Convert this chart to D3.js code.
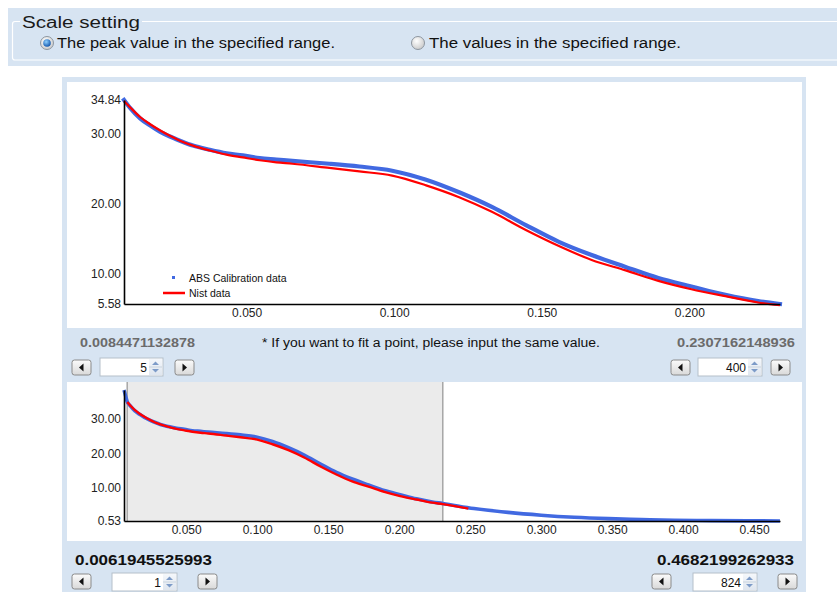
<!DOCTYPE html>
<html>
<head>
<meta charset="utf-8">
<script src="https://cdn.jsdelivr.net/npm/d3@7/dist/d3.min.js"></script>
<style>
  body { margin: 0; background: #ffffff; }
  svg { display: block; }
  text { font-family: "Liberation Sans", Arial, sans-serif; }
</style>
</head>
<body>
<svg id="chart" width="837" height="592"></svg>
<script>
// ---------------- DATA ----------------
const absQ = [0.0062, 0.0073, 0.00845, 0.0105, 0.0139, 0.0172, 0.0206, 0.0240, 0.0274, 0.0318, 0.0375, 0.0432,
              0.0487, 0.0544, 0.0601, 0.0655, 0.0780, 0.0882, 0.0993, 0.1108, 0.1220, 0.1331, 0.1446, 0.1558,
              0.1669, 0.1784, 0.1895, 0.2007, 0.2122, 0.2233, 0.2307, 0.2527, 0.2767, 0.3000, 0.3233, 0.3473,
              0.3706, 0.3939, 0.4200, 0.4450, 0.4682];
const absI = [38.2, 36.5, 34.84, 33.7, 32.2, 31.2, 30.3, 29.6, 29.0, 28.3, 27.7, 27.2,
              26.9, 26.5, 26.3, 26.1, 25.7, 25.3, 24.7, 23.4, 21.6, 19.5, 16.9, 14.5,
              12.6, 10.9, 9.3, 8.1, 6.9, 6.0, 5.58, 4.1, 3.0, 2.2, 1.6, 1.2,
              0.95, 0.75, 0.65, 0.58, 0.53];
const nistQ = [0.00845, 0.0105, 0.0139, 0.0172, 0.0206, 0.0240, 0.0274, 0.0318, 0.0375, 0.0432, 0.0487, 0.0544,
               0.0601, 0.0655, 0.0780, 0.0882, 0.0993, 0.1108, 0.1220, 0.1331, 0.1446, 0.1558, 0.1669, 0.1784,
               0.1895, 0.2007, 0.2122, 0.2233, 0.2307, 0.2487];
const nistI = [34.7, 33.8, 32.4, 31.4, 30.5, 29.7, 29.0, 28.3, 27.6, 27.0, 26.6, 26.2,
               25.9, 25.7, 25.1, 24.6, 24.0, 22.6, 20.9, 18.8, 16.2, 13.9, 11.9, 10.4,
               8.9, 7.7, 6.7, 5.8, 5.4, 4.1];

const topRange = [0.0084471132878, 0.2307162148936];
const topPeak = [5.58, 34.84];
const fullRange = [0.0061945525993, 0.4682199262933];
const fullPeak = [0.53, 38.2];

const topXTicks = [0.05, 0.10, 0.15, 0.20];
const topYTicks = [5.58, 10, 20, 30, 34.84];
const botXTicks = [0.05, 0.10, 0.15, 0.20, 0.25, 0.30, 0.35, 0.40, 0.45];
const botYTicks = [0.53, 10, 20, 30];

const legendLabels = ["ABS Calibration data", "Nist data"];
const radioLabels = ["The peak value in the specified range.", "The values in the specified range."];
const groupTitle = "Scale setting";
const noteText = "* If you want to fit a point, please input the same value.";
const rangeLabels = ["0.0084471132878", "0.2307162148936", "0.0061945525993", "0.4682199262933"];
const indexValues = ["5", "400", "1", "824"];

// ---------------- DRAW ----------------
const svg = d3.select("#chart");
const PANEL = "#d7e4f2";
const BLUE = "#4169e1";
const RED = "#ff0000";

const defs = svg.append("defs");
const g1 = defs.append("radialGradient").attr("id", "radOff").attr("cx", "40%").attr("cy", "35%").attr("r", "70%");
g1.append("stop").attr("offset", "0%").attr("stop-color", "#ffffff");
g1.append("stop").attr("offset", "100%").attr("stop-color", "#c8c8c8");
const g2 = defs.append("radialGradient").attr("id", "radDot").attr("cx", "40%").attr("cy", "35%").attr("r", "70%");
g2.append("stop").attr("offset", "0%").attr("stop-color", "#8fd0ff");
g2.append("stop").attr("offset", "100%").attr("stop-color", "#0a4fa8");
const g3 = defs.append("linearGradient").attr("id", "btn").attr("x1", 0).attr("y1", 0).attr("x2", 0).attr("y2", 1);
g3.append("stop").attr("offset", "0%").attr("stop-color", "#fbfbfb");
g3.append("stop").attr("offset", "100%").attr("stop-color", "#d9d9d9");
const g4 = defs.append("linearGradient").attr("id", "spin").attr("x1", 0).attr("y1", 0).attr("x2", 0).attr("y2", 1);
g4.append("stop").attr("offset", "0%").attr("stop-color", "#f4f7fb");
g4.append("stop").attr("offset", "100%").attr("stop-color", "#dfe6ef");

// Top settings band
svg.append("rect").attr("x", 8).attr("y", 8).attr("width", 829).attr("height", 58).attr("fill", PANEL);
svg.append("path")
  .attr("d", "M20,21.5 H15 Q12.5,21.5 12.5,24 V57.5 Q12.5,60 15,60 H837 M142,21.5 H837")
  .attr("fill", "none").attr("stroke", "#ffffff").attr("stroke-width", 1.2);
svg.append("text").attr("x", 22).attr("y", 28).attr("font-size", 16).attr("fill", "#1a1a1a")
  .attr("textLength", 118).attr("lengthAdjust", "spacingAndGlyphs").text(groupTitle);

// Radio buttons
const radios = [{cx: 47, tx: 57, w: 278, on: true}, {cx: 418, tx: 429, w: 252, on: false}];
radios.forEach((r, i) => {
  svg.append("circle").attr("cx", r.cx).attr("cy", 43).attr("r", 6.5)
    .attr("fill", "url(#radOff)").attr("stroke", "#8d96a0").attr("stroke-width", 1);
  if (r.on) svg.append("circle").attr("cx", r.cx).attr("cy", 43).attr("r", 3.8).attr("fill", "url(#radDot)");
  svg.append("text").attr("x", r.tx).attr("y", 48).attr("font-size", 14).attr("fill", "#111")
    .attr("textLength", r.w).attr("lengthAdjust", "spacingAndGlyphs").text(radioLabels[i]);
});

// Main panel
svg.append("rect").attr("x", 62).attr("y", 77).attr("width", 744).attr("height", 515).attr("fill", PANEL);
svg.append("rect").attr("x", 67).attr("y", 82).attr("width", 735).attr("height", 246).attr("fill", "#ffffff");
svg.append("rect").attr("x", 67).attr("y", 382).attr("width", 735).attr("height", 159).attr("fill", "#ffffff");

const absData = absQ.map((q, i) => ({q, v: absI[i]}));
const nistData = nistQ.map((q, i) => ({q, v: nistI[i]}));

// ---------- Top chart ----------
const xT = d3.scaleLinear().domain(topRange).range([124, 780]);
const yT = d3.scaleLinear().domain(topPeak).range([304, 100]);
defs.append("clipPath").attr("id", "clipT").append("rect").attr("x", 120).attr("y", 96).attr("width", 664).attr("height", 212);

const inTop = d => d.q >= topRange[0] - 1e-4 && d.q <= topRange[1] + 1e-4;
const lineT = d3.line().x(d => xT(d.q)).y(d => yT(d.v)).curve(d3.curveMonotoneX);
const gT = svg.append("g").attr("clip-path", "url(#clipT)");
gT.append("path").datum(absData.filter(inTop)).attr("d", lineT)
  .attr("fill", "none").attr("stroke", BLUE).attr("stroke-width", 4.2).attr("stroke-linecap", "square");
gT.append("path").datum(nistData.filter(inTop)).attr("d", lineT)
  .attr("fill", "none").attr("stroke", RED).attr("stroke-width", 2.2);

const axT_y = svg.append("g").attr("transform", "translate(124,0)")
  .call(d3.axisLeft(yT).tickValues(topYTicks).tickFormat(d3.format(".2f")).tickSize(0).tickPadding(3));
const axT_x = svg.append("g").attr("transform", "translate(0,304)")
  .call(d3.axisBottom(xT).tickValues(topXTicks).tickFormat(d3.format(".3f")).tickSize(0).tickPadding(4));
[axT_y, axT_x].forEach(a => {
  a.select(".domain").attr("stroke", "#000").attr("stroke-width", 1.6);
  a.selectAll("text").attr("font-size", 12).attr("fill", "#222").attr("font-family", "Liberation Sans, Arial, sans-serif");
});

// legend
svg.append("rect").attr("x", 172).attr("y", 276).attr("width", 3).attr("height", 3).attr("fill", BLUE);
svg.append("text").attr("x", 189).attr("y", 282).attr("font-size", 10.5).attr("fill", "#111").text(legendLabels[0]);
svg.append("line").attr("x1", 163).attr("x2", 185).attr("y1", 293).attr("y2", 293).attr("stroke", RED).attr("stroke-width", 2.5);
svg.append("text").attr("x", 189).attr("y", 297).attr("font-size", 10.5).attr("fill", "#111").text(legendLabels[1]);

// ---------- Bottom chart ----------
const xB = d3.scaleLinear().domain(fullRange).range([124, 780]);
const yB = d3.scaleLinear().domain(fullPeak).range([521, 390]);

svg.append("rect").attr("x", xB(topRange[0])).attr("y", 382)
  .attr("width", xB(topRange[1]) - xB(topRange[0])).attr("height", 521 - 382).attr("fill", "#ebebeb");
[topRange[0], topRange[1]].forEach(q => {
  svg.append("line").attr("x1", xB(q)).attr("x2", xB(q)).attr("y1", 382).attr("y2", 521)
    .attr("stroke", "#a6a6a6").attr("stroke-width", 1.5);
});

const lineB = d3.line().x(d => xB(d.q)).y(d => yB(d.v)).curve(d3.curveMonotoneX);
svg.append("path").datum(absData).attr("d", lineB)
  .attr("fill", "none").attr("stroke", BLUE).attr("stroke-width", 3.6);
svg.append("path").datum(nistData).attr("d", lineB)
  .attr("fill", "none").attr("stroke", RED).attr("stroke-width", 2.4);

const axB_y = svg.append("g").attr("transform", "translate(124,0)")
  .call(d3.axisLeft(yB).tickValues(botYTicks).tickFormat(d3.format(".2f")).tickSize(0).tickPadding(3));
const axB_x = svg.append("g").attr("transform", "translate(0,521)")
  .call(d3.axisBottom(xB).tickValues(botXTicks).tickFormat(d3.format(".3f")).tickSize(0).tickPadding(4));
[axB_y, axB_x].forEach(a => {
  a.select(".domain").attr("stroke", "#000").attr("stroke-width", 1.6);
  a.selectAll("text").attr("font-size", 12).attr("fill", "#222").attr("font-family", "Liberation Sans, Arial, sans-serif");
});

// ---------- Controls ----------
function arrowButton(x, y, dir) {
  svg.append("rect").attr("x", x).attr("y", y).attr("width", 19).attr("height", 15).attr("rx", 2.5)
    .attr("fill", "url(#btn)").attr("stroke", "#8a8a8a").attr("stroke-width", 1);
  const cx = x + 9.5, cy = y + 7.5;
  const p = dir < 0 ? `M${cx+2},${cy-4} L${cx-2.5},${cy} L${cx+2},${cy+4} Z` : `M${cx-2},${cy-4} L${cx+2.5},${cy} L${cx-2},${cy+4} Z`;
  svg.append("path").attr("d", p).attr("fill", "#111");
}
function spinBox(x, y, w, val) {
  svg.append("rect").attr("x", x).attr("y", y).attr("width", w).attr("height", 18)
    .attr("fill", "#ffffff").attr("stroke", "#b5bfc9").attr("stroke-width", 1);
  svg.append("rect").attr("x", x + w - 14).attr("y", y + 1).attr("width", 13).attr("height", 16).attr("fill", "url(#spin)");
  const sx = x + w - 7.5;
  svg.append("path").attr("d", `M${sx-3.5},${y+7} L${sx},${y+3.5} L${sx+3.5},${y+7} Z`).attr("fill", "#7d9bc8");
  svg.append("path").attr("d", `M${sx-3.5},${y+11} L${sx},${y+14.5} L${sx+3.5},${y+11} Z`).attr("fill", "#7d9bc8");
  svg.append("line").attr("x1", x + w - 14).attr("x2", x + w - 1).attr("y1", y + 9).attr("y2", y + 9).attr("stroke", "#c9d3de");
  svg.append("text").attr("x", x + w - 16).attr("y", y + 13.5).attr("text-anchor", "end")
    .attr("font-size", 12).attr("fill", "#111").text(val);
}

// top chart controls
svg.append("text").attr("x", 80).attr("y", 347).attr("font-size", 12).attr("font-weight", "bold").attr("fill", "#6b6b6b")
  .attr("textLength", 115).attr("lengthAdjust", "spacingAndGlyphs").text(rangeLabels[0]);
svg.append("text").attr("x", 677).attr("y", 347).attr("font-size", 12).attr("font-weight", "bold").attr("fill", "#6b6b6b")
  .attr("textLength", 118).attr("lengthAdjust", "spacingAndGlyphs").text(rangeLabels[1]);
svg.append("text").attr("x", 262).attr("y", 347).attr("font-size", 12).attr("fill", "#111")
  .attr("textLength", 338).attr("lengthAdjust", "spacingAndGlyphs").text(noteText);
arrowButton(72, 360, -1);
spinBox(100, 358, 63, indexValues[0]);
arrowButton(175, 360, 1);
arrowButton(671, 360, -1);
spinBox(698, 358, 64, indexValues[1]);
arrowButton(771, 360, 1);

// bottom chart controls
svg.append("text").attr("x", 75).attr("y", 565).attr("font-size", 14).attr("font-weight", "bold").attr("fill", "#111")
  .attr("textLength", 137).attr("lengthAdjust", "spacingAndGlyphs").text(rangeLabels[2]);
svg.append("text").attr("x", 657).attr("y", 565).attr("font-size", 14).attr("font-weight", "bold").attr("fill", "#111")
  .attr("textLength", 137).attr("lengthAdjust", "spacingAndGlyphs").text(rangeLabels[3]);
arrowButton(72, 574, -1);
spinBox(112, 573, 65, indexValues[2]);
arrowButton(198, 574, 1);
arrowButton(652, 574, -1);
spinBox(693, 573, 64, indexValues[3]);
arrowButton(778, 574, 1);
</script>
</body>
</html>
